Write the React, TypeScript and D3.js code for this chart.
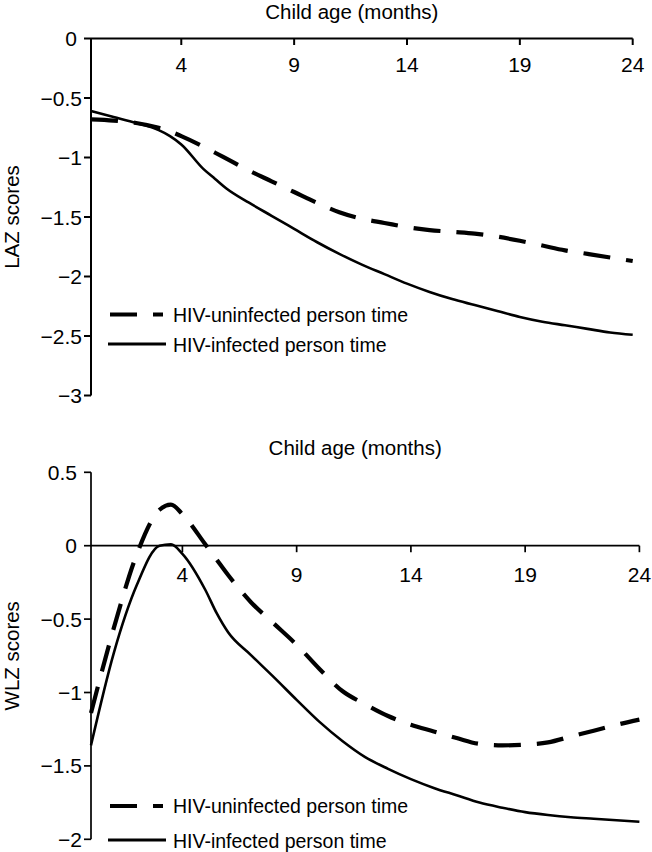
import React from "react";
import * as d3 from "d3";

const months = [0, 1, 2, 3, 3.5, 4, 5, 5.5, 6, 7, 8, 9, 10, 11, 12, 13, 14, 15, 16, 17, 18, 19, 20, 21, 22, 23, 24];
const lazUninfected = [-0.68, -0.69, -0.71, -0.75, -0.78, -0.82, -0.91, -0.96, -1.01, -1.11, -1.2, -1.29, -1.38, -1.46, -1.515, -1.55, -1.585, -1.61, -1.625, -1.64, -1.665, -1.7, -1.74, -1.78, -1.81, -1.84, -1.87];
const lazInfected = [-0.61, -0.66, -0.71, -0.77, -0.82, -0.89, -1.1, -1.18, -1.26, -1.38, -1.49, -1.6, -1.71, -1.81, -1.9, -1.98, -2.06, -2.13, -2.19, -2.24, -2.29, -2.34, -2.38, -2.41, -2.44, -2.47, -2.49];
const wlzUninfected = [-1.14, -0.56, -0.06, 0.245, 0.28, 0.215, 0.01, -0.095, -0.2, -0.385, -0.53, -0.675, -0.84, -0.99, -1.08, -1.16, -1.22, -1.265, -1.31, -1.35, -1.36, -1.355, -1.34, -1.3, -1.26, -1.22, -1.185];
const wlzInfected = [-1.36, -0.73, -0.27, 0.0, 0.01, -0.055, -0.3, -0.46, -0.59, -0.745, -0.895, -1.05, -1.2, -1.33, -1.44, -1.52, -1.59, -1.65, -1.7, -1.75, -1.785, -1.815, -1.835, -1.85, -1.86, -1.87, -1.88];

const xTicks = [4, 9, 14, 19, 24];
const lazTicks = [0, -0.5, -1, -1.5, -2, -2.5, -3];
const wlzTicks = [0.5, 0, -0.5, -1, -1.5, -2];
const xTitle = "Child age (months)";
const yTitles = ["LAZ scores", "WLZ scores"];
const seriesNames = ["HIV-uninfected person time", "HIV-infected person time"];

const FONT = "'Liberation Sans', Arial, Helvetica, sans-serif";
const DASH = "27 16";

function fmt(v: number) {
  return v < 0 ? "\u2212" + String(Math.abs(v)) : String(v);
}

type PanelProps = {
  xRange: [number, number];
  yDomain: [number, number];
  yRange: [number, number];
  yTicks: number[];
  uninf: number[];
  inf: number[];
  yTitle: string;
  titleY: number;
  tickLabelOffset: number;
  legendY: [number, number];
  axisWidth: number;
};

function Panel(p: PanelProps) {
  const x = d3.scaleLinear().domain([0, 24]).range(p.xRange);
  const y = d3.scaleLinear().domain(p.yDomain).range(p.yRange);
  const line = (vals: number[]) =>
    d3
      .line<number>()
      .x((_, i) => x(months[i]))
      .y((d) => y(d))
      .curve(d3.curveMonotoneX)(vals) || "";
  const x0 = x(0);
  const axisY = y(0);
  const yTop = Math.min(...p.yRange);
  const yBot = Math.max(...p.yRange);
  const titleX = (p.xRange[0] + p.xRange[1]) / 2 - 10;
  return (
    <g fontFamily={FONT} fill="#000">
      <text x={titleX} y={p.titleY} fontSize={20.5} textAnchor="middle">
        {xTitle}
      </text>
      {/* y axis */}
      <line x1={x0} x2={x0} y1={yTop} y2={yBot} stroke="#000" strokeWidth={p.axisWidth} />
      {p.yTicks.map((t) => (
        <g key={t}>
          <line x1={x0 - 7} x2={x0} y1={y(t)} y2={y(t)} stroke="#000" strokeWidth={p.axisWidth} />
          <text x={t < 0 ? 82 : 77} y={y(t)} dy="0.36em" fontSize={21} textAnchor="end">
            {fmt(t)}
          </text>
        </g>
      ))}
      {/* x axis */}
      <line x1={x0} x2={x(24)} y1={axisY} y2={axisY} stroke="#000" strokeWidth={p.axisWidth} />
      {xTicks.map((t) => (
        <g key={t}>
          <line x1={x(t)} x2={x(t)} y1={axisY} y2={axisY + 6.5} stroke="#000" strokeWidth={p.axisWidth} />
          <text x={x(t)} y={axisY + p.tickLabelOffset} fontSize={21} textAnchor="middle">
            {t}
          </text>
        </g>
      ))}
      <text
        transform={`translate(19, ${(yTop + yBot) / 2}) rotate(-90)`}
        fontSize={20.5}
        textAnchor="middle"
      >
        {p.yTitle}
      </text>
      {/* series */}
      <path d={line(p.uninf)} fill="none" stroke="#000" strokeWidth={4.2} strokeDasharray={DASH} />
      <path d={line(p.inf)} fill="none" stroke="#000" strokeWidth={2.6} />
      {/* legend */}
      <line x1={110} x2={163} y1={p.legendY[0]} y2={p.legendY[0]} stroke="#000" strokeWidth={4.2} strokeDasharray={DASH} />
      <text x={173} y={p.legendY[0] + 7} fontSize={19.5}>
        {seriesNames[0]}
      </text>
      <line x1={108} x2={166} y1={p.legendY[1]} y2={p.legendY[1]} stroke="#000" strokeWidth={3} />
      <text x={173} y={p.legendY[1] + 7.5} fontSize={19.5}>
        {seriesNames[1]}
      </text>
    </g>
  );
}

export default function App() {
  return (
    <svg
      width={652}
      height={852}
      style={{ position: "absolute", left: 0, top: 0, background: "#fff" }}
    >
      <rect width={652} height={852} fill="#fff" />
      <Panel
        xRange={[91, 632.7]}
        yDomain={[-3, 0]}
        yRange={[395.5, 38.5]}
        yTicks={lazTicks}
        uninf={lazUninfected}
        inf={lazInfected}
        yTitle={yTitles[0]}
        titleY={19}
        tickLabelOffset={33.2}
        legendY={[314.5, 344]}
        axisWidth={2}
      />
      <Panel
        xRange={[91, 639.4]}
        yDomain={[-2, 0.5]}
        yRange={[839.3, 472.3]}
        yTicks={wlzTicks}
        uninf={wlzUninfected}
        inf={wlzInfected}
        yTitle={yTitles[1]}
        titleY={455}
        tickLabelOffset={35.8}
        legendY={[806, 840]}
        axisWidth={1.7}
      />
    </svg>
  );
}
